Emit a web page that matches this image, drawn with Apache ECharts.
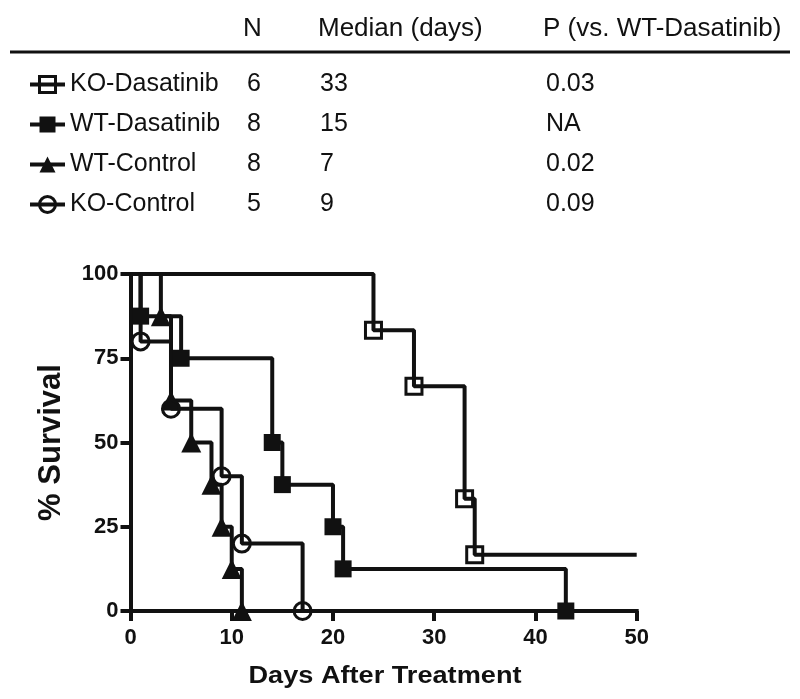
<!DOCTYPE html>
<html><head><meta charset="utf-8">
<script src="https://cdn.jsdelivr.net/npm/echarts@6/dist/echarts.min.js"></script>
<style>html,body{margin:0;padding:0;background:#fff}#c{width:800px;height:699px}</style>
</head><body><div id="c"></div>
<script>
// ---- data ----
const seriesNames = ['KO-Dasatinib', 'WT-Dasatinib', 'WT-Control', 'KO-Control'];
const nValues = ['6', '8', '8', '5'];
const medianDays = ['33', '15', '7', '9'];
const pValues = ['0.03', 'NA', '0.02', '0.09'];
const tableHeaders = ['N', 'Median (days)', 'P (vs. WT-Dasatinib)'];

const koDasDays = [0, 24, 28, 33, 34, 50];
const koDasSurv = [100, 83.33, 66.67, 33.33, 16.67, 16.67];
const wtDasDays = [0, 1, 5, 14, 15, 20, 21, 43];
const wtDasSurv = [100, 87.5, 75, 50, 37.5, 25, 12.5, 0];
const wtCtlDays = [0, 3, 4, 6, 8, 9, 10, 11];
const wtCtlSurv = [100, 87.5, 62.5, 50, 37.5, 25, 12.5, 0];
const koCtlDays = [0, 1, 4, 9, 11, 17];
const koCtlSurv = [100, 80, 60, 40, 20, 0];

const xTitle = 'Days After Treatment';
const yTitle = '% Survival';

// ---- build ----
const FONT = 'Liberation Sans, Arial, Helvetica, sans-serif';
const INK = '#111';
const curves = [
  {days: koDasDays, surv: koDasSurv, symbol: 'rect', size: 16, fill: 'rgba(0,0,0,0)', bw: 3},
  {days: wtDasDays, surv: wtDasSurv, symbol: 'rect', size: 17, fill: INK, bw: 0},
  {days: wtCtlDays, surv: wtCtlSurv, symbol: 'triangle', size: 20, fill: INK, bw: 0},
  {days: koCtlDays, surv: koCtlSurv, symbol: 'circle', size: 17, fill: 'rgba(0,0,0,0)', bw: 3}
];

function buildData(days, surv) {
  return days.map((d, i) => {
    const item = {value: [d, surv[i]]};
    if (i === 0 || surv[i] === surv[i - 1]) item.symbol = 'none';
    return item;
  });
}

const series = curves.map((c, k) => ({
  name: seriesNames[k],
  type: 'line',
  step: 'end',
  data: buildData(c.days, c.surv),
  symbol: c.symbol,
  symbolSize: c.size,
  showAllSymbol: true,
  lineStyle: {color: INK, width: 4},
  itemStyle: {color: c.fill, borderColor: INK, borderWidth: c.bw},
  emphasis: {disabled: true},
  animation: false,
  z: 3
}));

const option = {
  backgroundColor: '#fff',
  animation: false,
  grid: {left: 130.5, right: 163.3, top: 274, bottom: 88, containLabel: false},
  xAxis: {
    type: 'value', min: 0, max: 50, interval: 10,
    axisLine: {lineStyle: {color: INK, width: 4, cap: 'square'}},
    axisTick: {length: 10, lineStyle: {color: INK, width: 4}},
    axisLabel: {color: INK, fontFamily: FONT, fontWeight: 'bold', fontSize: 22, margin: 16},
    splitLine: {show: false}
  },
  yAxis: {
    type: 'value', min: 0, max: 100, interval: 25,
    name: yTitle, nameLocation: 'middle', nameGap: 64,
    nameTextStyle: {color: INK, fontFamily: FONT, fontWeight: 'bold', fontSize: 31},
    axisLine: {lineStyle: {color: INK, width: 4, cap: 'square'}},
    axisTick: {length: 10, lineStyle: {color: INK, width: 4}},
    axisLabel: {color: INK, fontFamily: FONT, fontWeight: 'bold', fontSize: 22, margin: 12},
    splitLine: {show: false}
  },
  legend: {
    orient: 'vertical', left: 28, top: 72, itemGap: 15, padding: 0,
    itemWidth: 35, itemHeight: 20,
    selectedMode: false,
    data: seriesNames.map((n, k) => ({name: n, itemStyle: {borderWidth: curves[k].bw}})),
    lineStyle: {width: 4},
    formatter: function (name) {
      const i = seriesNames.indexOf(name);
      return '{nm|' + name + '}{n|' + nValues[i] + '}{md|' + medianDays[i] + '}{p|' + pValues[i] + '}';
    },
    textStyle: {
      color: INK, fontFamily: FONT, fontSize: 25,
      rich: {
        nm: {width: 177, fontSize: 25, lineHeight: 30, fontFamily: FONT, color: INK},
        n: {width: 73, fontSize: 25, lineHeight: 30, fontFamily: FONT, color: INK},
        md: {width: 226, fontSize: 25, lineHeight: 30, fontFamily: FONT, color: INK},
        p: {fontSize: 25, lineHeight: 30, fontFamily: FONT, color: INK}
      }
    }
  },
  graphic: [
    {type: 'line', shape: {x1: 10, y1: 52, x2: 790, y2: 52}, style: {stroke: INK, lineWidth: 3}},
    {type: 'text', x: 243, y: 29, style: {text: tableHeaders[0], font: '26px ' + FONT, fill: INK, verticalAlign: 'middle', align: 'left'}},
    {type: 'text', x: 318, y: 29, style: {text: tableHeaders[1], font: '26px ' + FONT, fill: INK, verticalAlign: 'middle', align: 'left'}},
    {type: 'text', x: 543, y: 29, style: {text: tableHeaders[2], font: '26px ' + FONT, fill: INK, verticalAlign: 'middle', align: 'left'}},
    {type: 'text', x: 385, y: 677, scaleX: 1.18, originX: 0, originY: 0,
     style: {text: xTitle, font: 'bold 23px ' + FONT, fill: INK, verticalAlign: 'middle', align: 'center'}}
  ],
  series: series
};

const chart = echarts.init(document.getElementById('c'), null, {renderer: 'canvas'});
chart.setOption(option);
</script>
</body></html>
